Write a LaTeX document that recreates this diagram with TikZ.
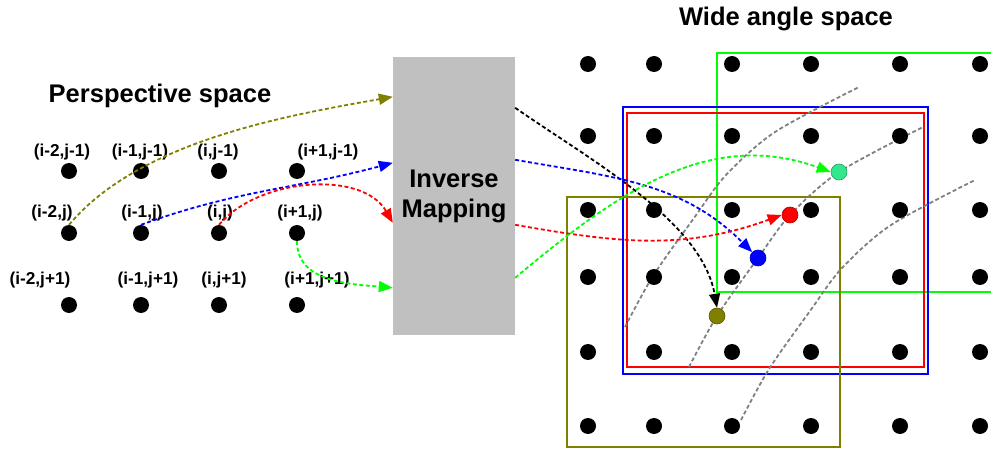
\documentclass[tikz,border=0pt]{standalone}
\usepackage{fontspec}
\setmainfont{Liberation Sans}
\usetikzlibrary{arrows.meta}
\definecolor{mapgray}{HTML}{C0C0C0}
\definecolor{olivec}{HTML}{808000}
\definecolor{limec}{HTML}{00FF00}
\definecolor{springc}{HTML}{33E88C}

\begin{document}
\begin{tikzpicture}[
  x=1pt, y=-1pt,
  heading/.style={font=\fontsize{25.5}{30}\selectfont\bfseries},
  idx/.style={font=\fontsize{17.2}{20}\selectfont\bfseries, inner sep=0pt},
  pix/.style={circle, fill=black, inner sep=0pt, minimum size=16pt},
  sample/.style={circle, draw=#1!70!black, fill=#1, line width=0.6pt,
    inner sep=0pt, minimum size=16pt},
  mapbox/.style={rectangle, fill=mapgray, minimum width=122pt,
    minimum height=278pt, align=center,
    font=\fontsize{25.5}{30}\selectfont\bfseries},
  arr/.style={-{Triangle[length=14pt,width=11pt]}, line width=1.8pt,
    dash pattern=on 4pt off 2.5pt, color=#1},
  win/.style={draw=#1, line width=2pt},
  trace/.style={gray, line width=1.8pt, dash pattern=on 4pt off 2.5pt},
]
  \useasboundingbox (0,0) rectangle (991,449);

  % titles
  \node[heading] (persp) at (160,96) {Perspective space};
  \node[heading] (wide) at (786,19) {Wide angle space};

  % perspective grid
  \foreach \x [count=\c] in {69,141,219,297}
    \foreach \y [count=\r] in {171,233,305}
      \node[pix] (l-\c-\r) at (\x,\y) {};
  \foreach \n/\x/\y/\t in {
      a1/62/152/{(i-2,j-1)}, b1/140/152/{(i-1,j-1)}, c1/218/152/{(i,j-1)}, d1/328/152/{(i+1,j-1)},
      a2/52/213/{(i-2,j)},   b2/142/213/{(i-1,j)},   c2/220/213/{(i,j)},   d2/300/213/{(i+1,j)},
      a3/40/280/{(i-2,j+1)}, b3/148/280/{(i-1,j+1)}, c3/224/280/{(i,j+1)}, d3/317/280/{(i+1,j+1)}}
    \node[idx] (lab-\n) at (\x,\y) {\t};

  % mapping block
  \node[mapbox] (map) at (454,196) {Inverse\\Mapping};

  % windows
  \draw[win=limec] (995,53) -| (717,292) -- (995,292);
  \draw[win=blue] (623,107) rectangle (928,374);
  \draw[win=red] (627,113) rectangle (924,367);
  \draw[win=olivec] (567,197) rectangle (840,447);

  % sampling traces
  \foreach \dx/\dy in {-64/-40, 0/0, 52/53}
    \draw[trace, shift={(\dx,\dy)}] plot[smooth] coordinates
      {(689,367) (717,316) (758,258) (790,215) (839,172) (923,127)};

  % wide angle grid
  \foreach \x [count=\c] in {588,654,732,811,900,980}
    \foreach \y [count=\r] in {64,136,210,277,352,426}
      \node[pix] (r-\c-\r) at (\x,\y) {};

  % mapped samples
  \node[sample=olivec] (so) at (717,316) {};
  \node[sample=blue] (sb) at (758,258) {};
  \node[sample=red] (sr) at (790,215) {};
  \node[sample=springc] (sg) at (839,172) {};

  % into the mapping
  \draw[arr=olivec] (l-1-2.north) to[out=50,in=190,looseness=0.8] ([yshift=-40pt]map.north west);
  \draw[arr=blue] (l-2-2.north) to[out=20,in=195] ([yshift=-106pt]map.north west);
  \draw[arr=red] (l-3-2.north) to[out=50,in=120,looseness=0.9] ([yshift=-166pt]map.north west);
  \draw[arr=limec] (l-4-2.south) to[out=-90,in=175] ([yshift=-231pt]map.north west);

  % out of the mapping
  \draw[arr=black] ([yshift=-51pt]map.north east) to[out=-35,in=100,looseness=0.8] (so.north);
  \draw[arr=blue] ([yshift=-103pt]map.north east) to[out=-10,in=135] (sb.north west);
  \draw[arr=red] ([yshift=-168pt]map.north east) to[out=-10,in=200] (sr.west);
  \draw[arr=limec] ([yshift=-221pt]map.north east) to[out=40,in=160] (sg.west);
\end{tikzpicture}
\end{document}
